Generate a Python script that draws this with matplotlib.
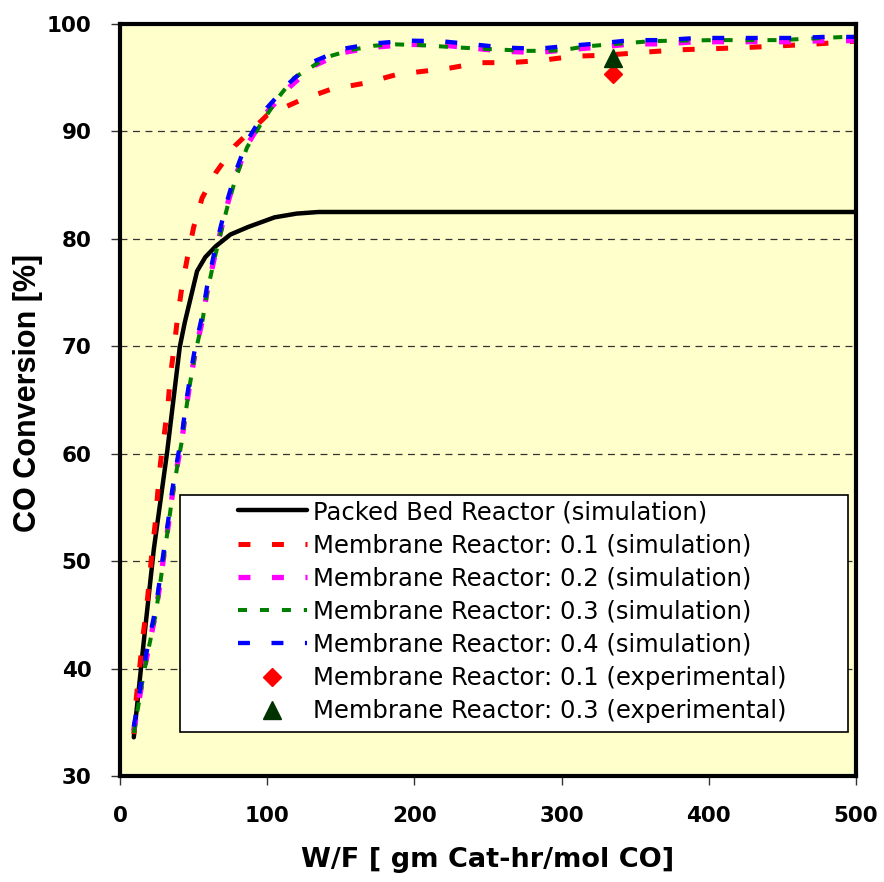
import matplotlib
matplotlib.use("Agg")
import matplotlib.pyplot as plt
from matplotlib.patches import Rectangle

plt.rcParams['lines.scale_dashes'] = False

# packed bed reactor (simulation)
pbr_wf = [9.4, 16, 23, 32, 40.6, 44, 52.4, 58, 65, 75, 87, 105, 120, 135, 500]
pbr_conv = [33.6, 42.3, 51.1, 60.1, 69.9, 72.2, 77.0, 78.3, 79.3, 80.4, 81.1, 82.0, 82.35, 82.5, 82.5]

# membrane reactor 0.1 (simulation)
mr1_wf = [9.4, 11.2, 13.4, 15.5, 18.0, 20.0, 21.8, 24.1, 25.6, 27.5, 30.2, 32.7, 34.3, 36.9,
          39.2, 42.2, 46.0, 50.1, 55.8, 64.8, 78.4, 93.1, 99.9, 122.5, 142.8, 166.6, 188.1,
          224.2, 244.6, 265, 285.3, 309, 330.5, 358.8, 380.3, 402.8, 424.3, 445.9, 468.5, 490, 500]
mr1_conv = [33.9, 37.4, 40.1, 42.9, 45.5, 48.3, 50.9, 53.7, 56.3, 59.1, 61.9, 64.7, 67.3, 70.0,
            72.8, 75.6, 78.4, 81.1, 83.8, 86.1, 88.7, 90.6, 91.5, 92.9, 93.9, 94.5, 95.3,
            95.9, 96.4, 96.4, 96.6, 97.0, 97.1, 97.4, 97.6, 97.7, 97.8, 97.95, 98.1, 98.3, 98.4]

# membrane reactor 0.4 (simulation)
mr4_wf = [9.4, 12.8, 16.1, 19.8, 24.1, 27.0, 29.7, 32.7, 35.4, 38.8, 42.2, 44.9, 47.8, 51.2,
          55.8, 59.2, 63.6, 68.2, 73.4, 79.0, 86.3, 99.9, 115.7, 131.5, 151.8, 173.3, 196.3,
          218.1, 240.2, 262, 284.1, 303.4, 326, 347.5, 369.4, 391.6, 413.7, 435.7, 457.1, 479.1, 500]
mr4_conv = [34.6, 37.4, 40.1, 42.7, 45.5, 48.2, 50.9, 53.7, 56.5, 59.3, 61.9, 64.7, 67.3, 70.0,
            72.8, 75.6, 78.4, 81.0, 83.8, 86.4, 89.1, 92.2, 94.6, 96.5, 97.7, 98.2, 98.45,
            98.4, 98.1, 97.8, 97.7, 97.95, 98.2, 98.5, 98.5, 98.7, 98.7, 98.7, 98.7, 98.8, 98.8]

# membrane reactor 0.2 (simulation)
mr2_wf = mr4_wf
mr2_conv = [34.2, 36.9, 39.6, 42.2, 45.0, 47.7, 50.4, 53.2, 56.0, 58.8, 61.4, 64.2, 66.8, 69.5,
            72.3, 75.1, 77.9, 80.6, 83.4, 86.0, 88.7, 91.8, 94.2, 96.1, 97.35, 97.85, 98.1,
            98.05, 97.75, 97.45, 97.35, 97.6, 97.85, 98.15, 98.15, 98.35, 98.35, 98.35, 98.35, 98.45, 98.45]

# membrane reactor 0.3 (simulation)
mr3_wf = [9.4, 12.8, 16.1, 19.8, 24.1, 27.0, 29.7, 32.7, 35.4, 38.8, 42.2, 44.9, 47.8, 51.2,
          55.8, 59.2, 63.6, 68.2, 73.4, 79.0, 86.3, 95.3, 107.8, 117.9, 141.4, 157.7, 172.9,
          187.5, 202.2, 231.4, 245.9, 275.6, 290.2, 302.2, 315.8, 332.3, 361.1, 375.7, 405.2,
          448.1, 492.9, 500]
mr3_conv = [34.0, 36.8, 39.5, 42.1, 44.9, 47.6, 50.3, 53.1, 55.9, 58.7, 61.3, 64.1, 66.7, 69.4,
            72.2, 75.0, 77.8, 80.4, 83.2, 85.8, 88.5, 90.6, 93.2, 94.95, 96.96, 97.6, 97.98,
            98.1, 98.05, 97.8, 97.7, 97.5, 97.5, 97.6, 97.9, 98.1, 98.4, 98.45, 98.5,
            98.5, 98.8, 98.8]

# experimental points
exp1_wf, exp1_conv = [335], [95.35]
exp3_wf, exp3_conv = [335], [96.8]

fig = plt.figure(figsize=(8.84, 8.82), dpi=100)
ax = fig.add_axes([0.1357, 0.1202, 0.8326, 0.8526])
ax.set_facecolor('#FFFFCC')

ax.plot(pbr_wf, pbr_conv, color='black', lw=3.2, solid_capstyle='round',
        label='Packed Bed Reactor (simulation)', zorder=2)
ax.plot(mr1_wf, mr1_conv, color='#FF0000', lw=3.6, linestyle=(0, (8.6, 15.5)),
        label='Membrane Reactor: 0.1 (simulation)', zorder=2)
ax.plot(mr2_wf, mr2_conv, color='#FF00FF', lw=3.8, linestyle=(0, (8.6, 15.5)),
        label='Membrane Reactor: 0.2 (simulation)', zorder=2)
ax.plot(mr3_wf, mr3_conv, color='#008000', lw=2.9, linestyle=(0, (6.5, 9.3)),
        label='Membrane Reactor: 0.3 (simulation)', zorder=2)
ax.plot(mr4_wf, mr4_conv, color='#0000FF', lw=3.1, linestyle=(0, (8.6, 15.5)),
        label='Membrane Reactor: 0.4 (simulation)', zorder=2)
ax.plot(exp1_wf, exp1_conv, ls='none', marker='D', ms=9.5, color='#FF0000',
        label='Membrane Reactor: 0.1 (experimental)', zorder=3)
ax.plot(exp3_wf, exp3_conv, ls='none', marker='^', ms=13.5, color='#003300',
        label='Membrane Reactor: 0.3 (experimental)', zorder=3)

ax.set_xlim(0, 500)
ax.set_ylim(30, 100)
ax.set_xticks(range(0, 501, 100))
ax.set_yticks(range(30, 101, 10))

ax.set_axisbelow(True)
ax.yaxis.grid(True, linestyle=(0, (5, 4)), color='#333333', lw=0.9)

for s in ax.spines.values():
    s.set_linewidth(3)
    s.set_color('black')

ax.tick_params(axis='both', direction='out', length=6.5, width=1, color='#333333',
               labelsize=15.5)
ax.tick_params(axis='y', pad=14)
ax.tick_params(axis='x', pad=15)
for lab in ax.get_xticklabels() + ax.get_yticklabels():
    lab.set_fontweight('bold')

ax.set_xlabel('W/F [ gm Cat-hr/mol CO]', fontsize=19.5, fontweight='bold')
ax.xaxis.set_label_coords(0.5, -0.095)
ax.set_ylabel('CO Conversion [%]', fontsize=22, fontweight='bold', family='Liberation Sans')
ax.yaxis.set_label_coords(-0.105, 0.51)

# legend box
ax.add_patch(Rectangle((0.0815, 0.0585), 0.907, 0.315, transform=ax.transAxes,
                       facecolor='white', edgecolor='black', lw=1.2, zorder=4))
leg = ax.legend(loc='upper left', bbox_to_anchor=(0.1603, 0.3670), frameon=False,
                borderaxespad=0, borderpad=0, fontsize=17.5, handlelength=2.84,
                handletextpad=0.25, labelspacing=0.38, numpoints=1)
leg.set_zorder(5)

fig.savefig('out.png', dpi=100)
